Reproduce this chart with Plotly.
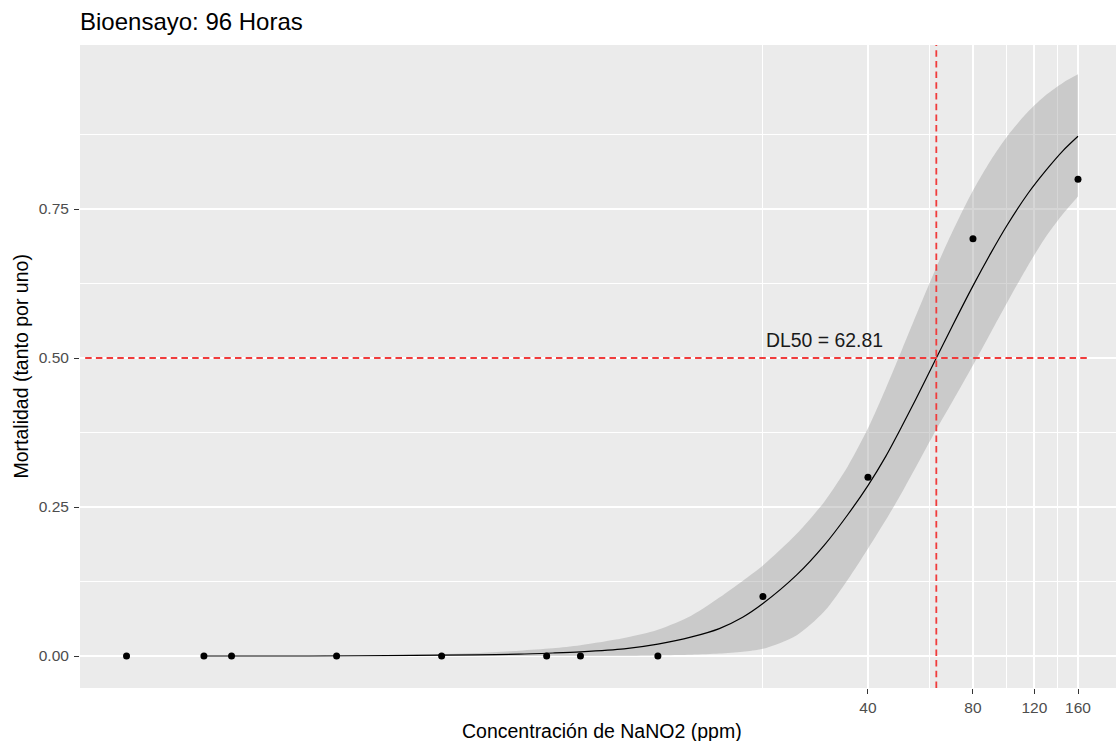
import math
import plotly.graph_objects as go

# ---------------- data ----------------
dose = [0.3, 0.5, 0.6, 1.2, 2.4, 4.8, 6, 10, 20, 40, 80, 160]
mortality = [0, 0, 0, 0, 0, 0, 0, 0, 0.1, 0.3, 0.7, 0.8]

fit_dose = [0.5, 1, 2, 3, 4, 5, 6, 8, 10, 12.5, 15, 17.5, 20, 25, 30, 35, 40,
            45, 50, 55, 62.81, 70, 80, 90, 100, 115, 130, 145, 160]
fit_p = [0.000, 0.000, 0.001, 0.002, 0.003, 0.005, 0.007, 0.012, 0.020, 0.032,
         0.046, 0.065, 0.088, 0.136, 0.186, 0.237, 0.286, 0.335, 0.385, 0.432,
         0.500, 0.555, 0.621, 0.676, 0.722, 0.776, 0.816, 0.848, 0.872]
fit_lower = [0.000, 0.000, 0.000, 0.000, 0.000, 0.000, 0.000, 0.000, 0.001, 0.002,
             0.004, 0.007, 0.012, 0.035, 0.075, 0.128, 0.180, 0.228, 0.274, 0.318,
             0.380, 0.428, 0.488, 0.543, 0.592, 0.655, 0.705, 0.742, 0.771]
fit_upper = [0.000, 0.000, 0.002, 0.005, 0.009, 0.013, 0.018, 0.030, 0.044, 0.068,
             0.098, 0.126, 0.152, 0.205, 0.259, 0.318, 0.382, 0.449, 0.513, 0.572,
             0.652, 0.713, 0.781, 0.832, 0.871, 0.913, 0.942, 0.962, 0.976]

DL50 = 62.81
hline_level = 0.5
hline_end = 170
label_x, label_y = 30, 0.53

x_ticks = [40, 80, 120, 160]
x_minor = [20, 60, 100, 140]
y_ticks = [0, 0.25, 0.5, 0.75]
y_tick_text = ["0.00", "0.25", "0.50", "0.75"]
y_minor = [0.125, 0.375, 0.625, 0.875]

X_RANGE = [0.2207, 205.6]
FONT = "Liberation Sans, Arial, sans-serif"
RED = "#F03C3C"

fig = go.Figure()

fig.add_trace(go.Scatter(x=fit_dose, y=fit_lower, mode="lines",
                         line=dict(width=0, shape="spline", smoothing=0.8),
                         hoverinfo="skip", showlegend=False))
fig.add_trace(go.Scatter(x=fit_dose, y=fit_upper, mode="lines",
                         line=dict(width=0, shape="spline", smoothing=0.8), fill="tonexty",
                         fillcolor="rgba(153,153,153,0.4)", hoverinfo="skip",
                         showlegend=False))
fig.add_trace(go.Scatter(x=fit_dose, y=fit_p, mode="lines",
                         line=dict(color="black", width=1.2, shape="spline", smoothing=0.8),
                         showlegend=False))
fig.add_trace(go.Scatter(x=dose, y=mortality, mode="markers",
                         marker=dict(color="black", size=7),
                         showlegend=False))

# reference lines
lx0, lx1 = math.log10(X_RANGE[0]), math.log10(X_RANGE[1])
fig.add_shape(type="line", xref="x", yref="paper", x0=DL50, x1=DL50, y0=0, y1=1,
              line=dict(color=RED, width=1.8, dash="6.5px,4.2px"), layer="above")
fig.add_shape(type="line", xref="paper", yref="y", y0=hline_level, y1=hline_level,
              x0=0.005, x1=(math.log10(hline_end) - lx0) / (lx1 - lx0),
              line=dict(color=RED, width=1.8, dash="6.5px,4.2px"), layer="above")

fig.add_annotation(x=math.log10(label_x), y=label_y, xref="x", yref="y",
                   text=f"DL50 = {DL50:.2f}", showarrow=False,
                   font=dict(family=FONT, size=19.4, color="#1a1a1a"))

# axis titles
fig.add_annotation(x=0.5039, y=0, xref="paper", yref="paper", yshift=-43,
                   text="Concentración de NaNO2 (ppm)", showarrow=False,
                   yanchor="middle", xanchor="center",
                   font=dict(family=FONT, size=19.5, color="black"))
fig.add_annotation(x=0, y=0.5, xref="paper", yref="paper", xshift=-60,
                   text="Mortalidad (tanto por uno)", showarrow=False, textangle=-90,
                   xanchor="center", yanchor="middle",
                   font=dict(family=FONT, size=19.5, color="black"))

fig.update_layout(
    width=1116, height=741,
    margin=dict(l=80, r=0, t=45, b=53),
    paper_bgcolor="white", plot_bgcolor="#EBEBEB",
    font=dict(family=FONT),
    title=dict(text="Bioensayo: 96 Horas", x=0, xref="paper", xanchor="left",
               y=1 - 22 / 741, yref="container", yanchor="middle",
               font=dict(family=FONT, size=24, color="black")),
    xaxis=dict(type="log", range=[lx0, lx1],
               tickmode="array", tickvals=x_ticks, ticktext=[str(v) for v in x_ticks],
               showgrid=True, gridcolor="white", gridwidth=1.5,
               ticks="outside", ticklen=5, tickwidth=1.3, tickcolor="#333333",
               tickfont=dict(family=FONT, size=15.5, color="#4D4D4D"),
               minor=dict(tickmode="array", tickvals=x_minor, showgrid=True,
                          gridcolor="white", gridwidth=0.8, ticks=""),
               zeroline=False, showline=False, fixedrange=True),
    yaxis=dict(range=[-0.0537, 1.0252],
               tickmode="array", tickvals=y_ticks, ticktext=y_tick_text,
               showgrid=True, gridcolor="white", gridwidth=1.5,
               ticks="outside", ticklen=5, tickwidth=1.3, tickcolor="#333333",
               tickfont=dict(family=FONT, size=15.5, color="#4D4D4D"),
               ticklabelstandoff=2,
               minor=dict(tickmode="array", tickvals=y_minor, showgrid=True,
                          gridcolor="white", gridwidth=0.8, ticks=""),
               zeroline=False, showline=False, fixedrange=True),
)

fig.write_html("out.html")
